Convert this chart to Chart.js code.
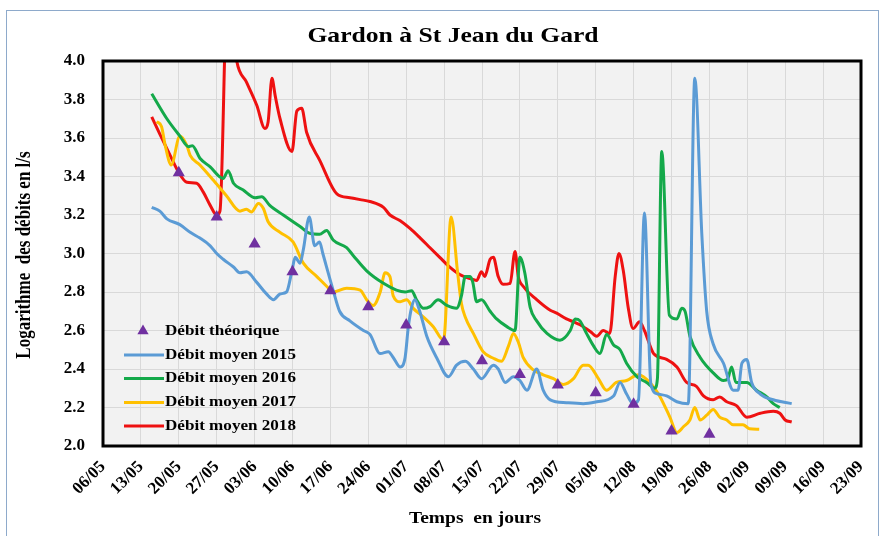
<!DOCTYPE html>
<html><head><meta charset="utf-8">
<script src="https://cdn.jsdelivr.net/npm/chart.js@4.4.1/dist/chart.umd.min.js"></script>
<style>
html,body{margin:0;padding:0;background:#fff;}
#wrap{position:relative;width:883px;height:536px;overflow:hidden;}
#frame{position:absolute;left:6px;top:10px;width:873px;height:545px;border:1px solid #8eaacb;box-sizing:border-box;}
canvas{position:absolute;left:0;top:0;}
</style></head><body>
<div id="wrap"><div id="frame"></div><canvas id="c" width="883" height="536"></canvas></div>
<script>
// Tick labels (one per week, starting 06/05)
const tickLabels = ["06/05","13/05","20/05","27/05","03/06","10/06","17/06","24/06","01/07","08/07","15/07","22/07","29/07","05/08","12/08","19/08","26/08","02/09","09/09","16/09","23/09"];
// x values are days counted from 06/05
const theoDays = [14,21,28,35,42,49,56,63,70,77,84,91,98,105,112];
const theoValues = [3.42,3.19,3.05,2.905,2.807,2.724,2.629,2.542,2.443,2.372,2.317,2.277,2.217,2.078,2.061];

const days2015 = [9,10.5,11.8,14.2,16.1,17.9,19.8,21,22.2,24.1,25.3,26.5,28.4,30.2,31.5,32.7,33.9,34.9,35.5,36.4,37,38.1,39.1,40,40.6,42.5,43.7,45.6,48.1,49.3,51.2,52.7,53.6,54.9,55.8,56.4,57,57.6,58.5,59.8,61.6,63.8,65.3,66.9,68.4,69.9,72.1,73,74.3,75.8,77,78.3,80.1,81.3,82.6,85.6,88.7,91.2,94.3,95.5,96.7,97.9,98.9,100,101.2,102.5,104.1,106,108.1,109.3,110.6,111.5,112.7,114.6,116.4,117.3,118,118.9,119.8,121.4,123.8,127.2];
const values2015 = [3.24,3.22,3.18,3.15,3.11,3.08,3.04,3.00,2.97,2.93,2.90,2.905,2.85,2.79,2.76,2.79,2.80,2.91,2.98,2.95,3.02,3.19,3.04,3.06,3.00,2.81,2.70,2.65,2.60,2.58,2.48,2.49,2.46,2.41,2.46,2.62,2.72,2.76,2.70,2.57,2.46,2.36,2.42,2.44,2.40,2.35,2.42,2.40,2.33,2.36,2.34,2.29,2.40,2.29,2.24,2.225,2.22,2.23,2.26,2.33,2.27,2.22,2.24,3.21,2.32,2.27,2.26,2.23,2.22,3.91,3.10,2.70,2.53,2.43,2.29,2.29,2.43,2.45,2.33,2.27,2.24,2.22];

const days2016 = [9,11.8,14.2,15.8,16.5,17.9,19.8,22.2,23.1,24.1,25.9,28.1,29.3,30.8,33.3,36.4,38.2,40,41.3,42.5,45,46.2,48.7,51.8,54.2,55.8,57,57.9,59.2,60.4,61.9,63.5,65.3,66.2,66.9,67.8,68.3,69,69.9,71.5,72.7,74.6,76.1,77,77.9,78.9,80.1,82,84.4,86.3,87.2,88.1,89.3,90.6,91.8,93,94.3,95.5,96.7,98.6,100.4,101.9,102.4,103.2,104.6,106,106.9,107.5,108.4,110.3,112.7,114.6,115.4,116.1,116.9,118.9,120.7,122.6,123.8,125];
const values2016 = [3.83,3.70,3.61,3.555,3.56,3.495,3.45,3.39,3.43,3.365,3.33,3.29,3.295,3.25,3.20,3.14,3.105,3.10,3.12,3.07,3.03,2.99,2.91,2.845,2.81,2.80,2.807,2.76,2.715,2.724,2.76,2.73,2.715,2.78,2.88,2.88,2.85,2.75,2.76,2.70,2.66,2.62,2.60,2.98,2.90,2.72,2.65,2.585,2.55,2.60,2.66,2.65,2.585,2.52,2.48,2.58,2.525,2.50,2.43,2.36,2.33,2.30,2.35,3.53,2.68,2.66,2.715,2.70,2.57,2.46,2.38,2.34,2.35,2.41,2.33,2.33,2.29,2.255,2.22,2.20];

const days2017 = [9.9,10.8,11.5,12.6,14.2,15.5,16.1,17.9,20.4,22.8,25.3,26.5,27.4,28.7,29.6,30.5,32.7,35.1,37,39.5,41.3,42.5,45,47.5,48.7,49.9,51.2,52.1,53,53.6,54.9,56.1,57.3,59.2,61,62.9,64.3,65.5,66.2,66.9,68.4,70.2,72.1,73.6,74.9,75.8,76.7,77.6,79.5,81.3,83.2,85,86.9,88.7,89.6,91.5,93,94.8,96.7,98.9,101,102.8,104.7,106,107.2,108.4,109.3,110.3,111.5,112.7,113.9,115.2,116.4,118.2,119.4,121.2];
const values2017 = [3.685,3.66,3.56,3.46,3.61,3.56,3.51,3.46,3.38,3.30,3.22,3.23,3.215,3.26,3.235,3.165,3.11,3.06,2.95,2.88,2.83,2.80,2.82,2.81,2.76,2.73,2.80,2.90,2.88,2.78,2.75,2.76,2.715,2.67,2.62,2.55,3.19,2.90,2.74,2.67,2.585,2.49,2.456,2.44,2.52,2.585,2.54,2.46,2.395,2.37,2.35,2.32,2.35,2.42,2.42,2.35,2.29,2.33,2.34,2.37,2.33,2.26,2.15,2.07,2.10,2.135,2.20,2.135,2.16,2.19,2.15,2.135,2.11,2.11,2.09,2.087];

const days2018 = [9,10.5,12.4,13.9,15.5,17.3,18.5,19.8,21,21.6,23,24.7,26.5,28.4,29.9,30.5,31.2,31.8,32.7,34.9,35.8,36.7,37.6,40.1,43.2,45.6,47.5,49.3,51.8,53,54.9,56.7,58.6,60.4,62.2,64,65.9,67.8,69,69.9,70.5,71.5,72.1,73,73.9,75.2,76.1,76.7,77.6,80.1,82.6,83.8,85.6,86.9,88.1,90,91.2,92.4,93.6,94.6,95.3,96.1,97,97.9,99.1,100,101.7,104.1,106,107.8,109.6,110.9,112.7,113.9,115.2,117,118.9,121.4,123.8,125,126,127.2];
const values2018 = [3.71,3.62,3.51,3.425,3.37,3.365,3.32,3.25,3.20,3.22,4.40,4.00,3.89,3.77,3.65,3.685,3.91,3.82,3.70,3.53,3.74,3.755,3.63,3.48,3.31,3.29,3.28,3.27,3.24,3.20,3.17,3.13,3.08,3.03,2.98,2.93,2.89,2.87,2.86,2.905,2.88,2.97,2.98,2.88,2.84,2.845,3.01,2.88,2.83,2.76,2.705,2.69,2.66,2.645,2.63,2.595,2.57,2.60,2.585,2.88,3.00,2.91,2.72,2.61,2.645,2.60,2.48,2.45,2.41,2.33,2.31,2.26,2.24,2.255,2.23,2.21,2.15,2.17,2.18,2.17,2.135,2.125];

const toXY = (d, v) => d.map((x, i) => ({x: x, y: v[i]}));
const SERIF = '"Liberation Serif", "Times New Roman", serif';
const STRETCH = 1.22;

function stretchedText(ctx, text, x, y, font, align) {
  ctx.save();
  ctx.font = font;
  ctx.fillStyle = '#000';
  ctx.textBaseline = 'middle';
  ctx.textAlign = align || 'center';
  ctx.translate(x, y);
  ctx.scale(STRETCH, 1);
  ctx.fillText(text, 0, 0);
  ctx.restore();
}

const deco = {
  id: 'deco',
  beforeDraw(chart) {
    const {ctx, chartArea: a} = chart;
    ctx.save();
    ctx.fillStyle = '#f2f2f2';
    ctx.fillRect(a.left, a.top, a.right - a.left, a.bottom - a.top);
    ctx.restore();
  },
  afterDraw(chart) {
    const {ctx, chartArea: a} = chart;
    ctx.save();
    ctx.strokeStyle = '#000';
    ctx.lineWidth = 3;
    ctx.strokeRect(a.left, a.top, a.right - a.left, a.bottom - a.top);
    ctx.restore();
    // titles
    stretchedText(ctx, 'Gardon à St Jean du Gard', 453, 37, 'bold 21px ' + SERIF);
    stretchedText(ctx, 'Temps  en jours', 475, 519, 'bold 16px ' + SERIF);
    ctx.save();
    ctx.translate(25, 255);
    ctx.rotate(-Math.PI / 2);
    ctx.font = 'bold 17px ' + SERIF;
    ctx.fillStyle = '#000';
    ctx.textAlign = 'center';
    ctx.textBaseline = 'middle';
    ctx.scale(1, STRETCH);
    ctx.fillText('Logarithme  des débits en l/s', 0, 0);
    ctx.restore();
    // legend
    const ds = chart.data.datasets;
    const rows = [331, 355, 378.5, 402.5, 426];
    ds.forEach((d, i) => {
      const y = rows[i];
      ctx.save();
      if (i === 0) {
        const r = 6.5;
        ctx.fillStyle = d.backgroundColor;
        ctx.beginPath();
        ctx.moveTo(143, y - r);
        ctx.lineTo(143 + r * 0.866, y + r * 0.5);
        ctx.lineTo(143 - r * 0.866, y + r * 0.5);
        ctx.closePath();
        ctx.fill();
      } else {
        ctx.strokeStyle = d.borderColor;
        ctx.lineWidth = 3;
        ctx.beginPath();
        ctx.moveTo(124, y);
        ctx.lineTo(164, y);
        ctx.stroke();
      }
      ctx.restore();
      stretchedText(ctx, d.label, 165, y, 'bold 14px ' + SERIF, 'left');
    });
  }
};

const lineDs = (label, color, d, v) => ({
  label: label, data: toXY(d, v), borderColor: color, backgroundColor: color,
  borderWidth: 3, pointRadius: 0, fill: false, cubicInterpolationMode: 'monotone'
});

new Chart(document.getElementById('c'), {
  type: 'line',
  data: {
    datasets: [
      {label: 'Débit théorique', data: toXY(theoDays, theoValues), showLine: false,
       pointStyle: 'triangle', pointRadius: 7, borderWidth: 0,
       backgroundColor: '#7030a0', borderColor: '#7030a0'},
      lineDs('Débit moyen 2015', '#5b9bd5', days2015, values2015),
      lineDs('Débit moyen 2016', '#14a94a', days2016, values2016),
      lineDs('Débit moyen 2017', '#ffc000', days2017, values2017),
      lineDs('Débit moyen 2018', '#ee1111', days2018, values2018)
    ]
  },
  options: {
    responsive: false,
    animation: false,
    layout: {padding: {left: 0, top: 61, right: 22, bottom: 0}},
    plugins: {legend: {display: false}, title: {display: false}, tooltip: {enabled: false}},
    scales: {
      x: {
        type: 'linear', min: 0, max: 140,
        afterFit: s => { s.height = 90; s.paddingLeft = 0; s.paddingRight = 0; },
        afterBuildTicks: s => { s.ticks = tickLabels.map((t, i) => ({value: i * 7})); },
        border: {display: false},
        grid: {color: '#d9d9d9', lineWidth: 1, drawTicks: false},
        ticks: {
          autoSkip: false, maxRotation: 45, minRotation: 45, padding: 11,
          color: '#000', font: {family: SERIF, size: 17, weight: 'bold'},
          callback: v => tickLabels[Math.round(v / 7)]
        }
      },
      y: {
        min: 2, max: 4,
        afterFit: s => { s.width = 103; s.paddingTop = 0; s.paddingBottom = 0; },
        border: {display: false},
        grid: {color: '#d9d9d9', lineWidth: 1, drawTicks: false},
        ticks: {
          stepSize: 0.2, padding: 18, color: '#000',
          font: {family: SERIF, size: 17, weight: 'bold'},
          callback: v => v.toFixed(1)
        }
      }
    }
  },
  plugins: [deco]
});
</script>
</body></html>
